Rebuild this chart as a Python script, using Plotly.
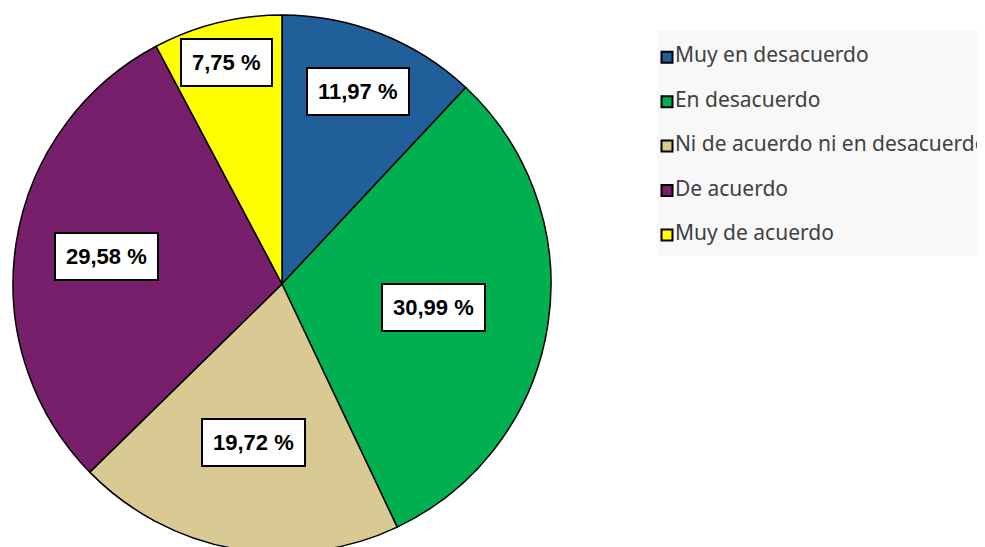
import math
import plotly.graph_objects as go

# data
categories = ['Muy en desacuerdo', 'En desacuerdo', 'Ni de acuerdo ni en desacuerdo',
              'De acuerdo', 'Muy de acuerdo']
percentages = [11.97, 30.99, 19.72, 29.58, 7.75]
colors = ['#215F9A', '#00B050', '#D9CA94', '#771F6A', '#FFFF00']

# label placement (fraction of radius, Excel "best fit" look)
label_radius = [0.77, 0.57, 0.60, 0.66, 0.85]

# the page body has an 8px margin, so the figure is drawn a bit taller
# and the bottom of the pie gets cut off like in the original
W, H = 985, 570
pie_cx, pie_cy, r_px = 274, 276, 269

fig = go.Figure()

fig.add_trace(go.Pie(
    labels=categories,
    values=percentages,
    marker=dict(colors=colors, line=dict(color='black', width=1.5)),
    sort=False,
    direction='clockwise',
    rotation=0,
    textinfo='none',
    hoverinfo='label+percent',
    showlegend=False,
    domain=dict(x=[(pie_cx - r_px) / W, (pie_cx + r_px) / W],
                y=[1 - (pie_cy + r_px) / H, 1 - (pie_cy - r_px) / H]),
))

# legend drawn as a small scatter (square markers + text) on a grey panel
fig.add_trace(go.Scatter(
    x=[10] * len(categories),
    y=list(range(len(categories))),
    mode='markers+text',
    text=categories,
    textposition='middle right',
    textfont=dict(family='Noto Sans', size=21, color='#404040'),
    marker=dict(symbol='square', size=11, color=colors, line=dict(color='black', width=2)),
    showlegend=False,
    hoverinfo='skip',
    cliponaxis=False,
))

# percentage labels in white boxes
total = sum(percentages)
cum = 0
for v, frac in zip(percentages, label_radius):
    mid = (cum + v / 2) / total * 2 * math.pi
    cum += v
    px = pie_cx + frac * r_px * math.sin(mid)
    py = pie_cy - frac * r_px * math.cos(mid)
    txt = '<b>' + f'{v:.2f}'.replace('.', ',') + ' %</b>'
    fig.add_annotation(x=px / W, y=1 - py / H, xref='paper', yref='paper', text=txt,
                       xanchor='center', yanchor='middle',
                       showarrow=False, borderpad=10, borderwidth=2,
                       bgcolor='white', bordercolor='black',
                       font=dict(family='Liberation Sans, Arial', size=22, color='black'))

panel_top, panel_bottom = 22, 248
fig.update_layout(
    width=W, height=H,
    margin=dict(l=0, r=0, t=0, b=0),
    paper_bgcolor='white',
    plot_bgcolor='#F8F8F8',
    showlegend=False,
    xaxis=dict(domain=[649 / W, 1], range=[0, 336], visible=False, fixedrange=True),
    yaxis=dict(domain=[1 - panel_bottom / H, 1 - panel_top / H], range=[4.47, -0.61],
               visible=False, fixedrange=True),
)

fig.write_html('out.html')
